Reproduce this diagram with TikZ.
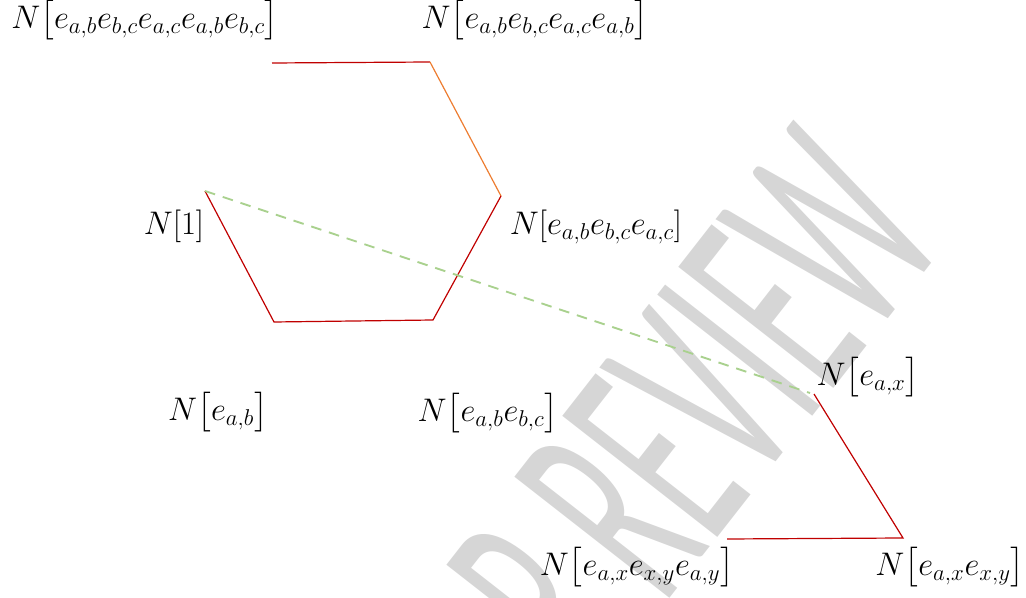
\RequirePackage{fix-cm}
\documentclass[tikz,border=0pt]{standalone}
\usepackage{amsmath}
\usepackage{graphicx}
\usepackage{fontspec}
\usepackage{tikz}
\usepackage{xcolor}
\usetikzlibrary{calc}

\newfontfamily\markfont{Carlito}
\definecolor{edgered}{HTML}{C00000}
\definecolor{edgeorange}{HTML}{ED7D31}
\definecolor{edgegreen}{HTML}{A9D18E}
\definecolor{markgray}{HTML}{D6D6D6}

\begin{document}
\begin{tikzpicture}[x=0.75pt,y=-0.75pt,
    lbl/.style={inner sep=0pt, font=\fontsize{24.5}{29}\selectfont},
    redge/.style={edgered, line width=0.9pt},
    oedge/.style={edgeorange, line width=0.9pt},
    gedge/.style={edgegreen, line width=1.4pt, dash pattern=on 8pt off 6pt}]
            \useasboundingbox (0,0) rectangle (1026,598);
            % watermark
            \node[rotate=52, anchor=base east, inner sep=0pt, text=markgray,
                  font=\markfont\fontsize{230}{230}\selectfont] (mark) at (950,240) {\scalebox{0.47}[1]{FOR REVIEW}};
            % corners
            \coordinate (h1) at (272,63);
            \coordinate (h2) at (430,62);
            \coordinate (h3) at (501,196);
            \coordinate (h4) at (433,320);
            \coordinate (h5) at (274,322);
            \coordinate (h6) at (205,191);
            \coordinate (t1) at (810,393);
            \coordinate (t2) at (814,394);
            \coordinate (t3) at (903,538);
            \coordinate (t4) at (727,539);
            \draw[redge] (h1) -- (h2);
            \draw[oedge] (h2) -- (h3);
            \draw[redge] (h3) -- (h4) -- (h5) -- (h6);
            \draw[gedge] (h6) -- (t1);
            \draw[redge] (t2) -- (t3) -- (t4);
            % labels
            \node[lbl] (abbcacabbc) at (145,20) {$N\bigl[e_{a,b}e_{b,c}e_{a,c}e_{a,b}e_{b,c}\bigr]$};
            \node[lbl] (abbcacab) at (535,20) {$N\bigl[e_{a,b}e_{b,c}e_{a,c}e_{a,b}\bigr]$};
            \node[lbl] (one) at (174,226) {$N[1]$};
            \node[lbl] (abbcac) at (596,227) {$N[e_{a,b}e_{b,c}e_{a,c}]$};
            \node[lbl] (ab) at (218,412) {$N\bigl[e_{a,b}\bigr]$};
            \node[lbl] (abbc) at (488,413) {$N\bigl[e_{a,b}e_{b,c}\bigr]$};
            \node[lbl] (ax) at (868,377) {$N\bigl[e_{a,x}\bigr]$};
            \node[lbl] (axxyay) at (637,567) {$N\bigl[e_{a,x}e_{x,y}e_{a,y}\bigr]$};
            \node[lbl] (axxy) at (950,567) {$N\bigl[e_{a,x}e_{x,y}\bigr]$};
        \end{tikzpicture}
\end{document}
